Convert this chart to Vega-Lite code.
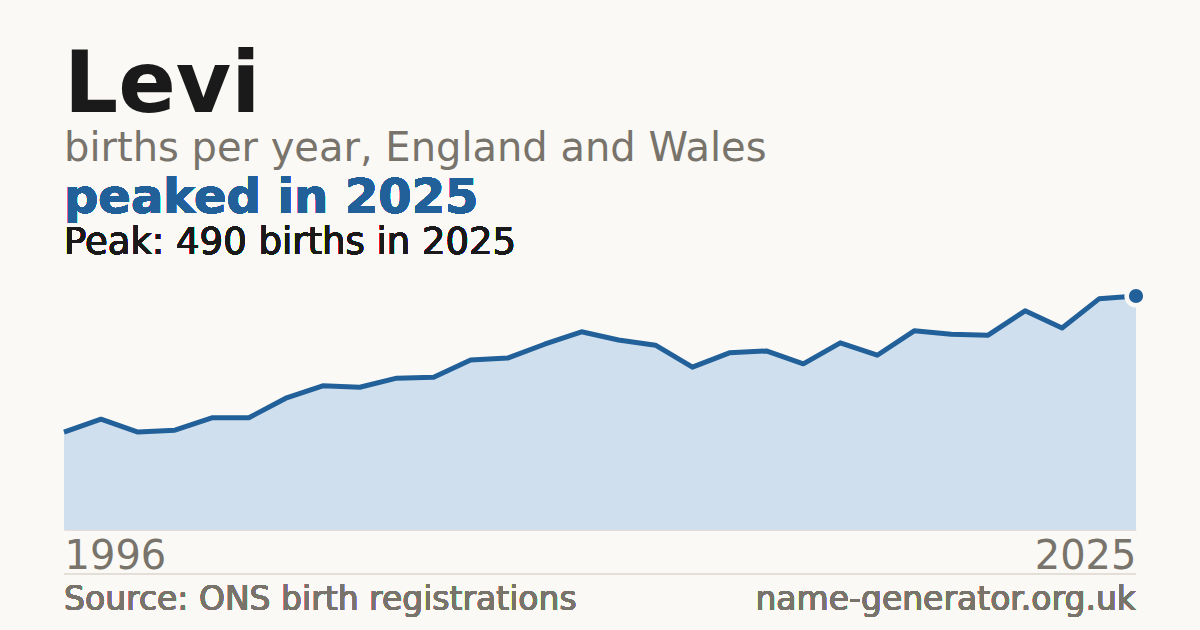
{
  "$schema": "https://vega.github.io/schema/vega-lite/v6.json",
  "autosize": {"type": "none"},
  "width": 1072,
  "height": 234,
  "padding": {"left": 64, "right": 64, "top": 296, "bottom": 100},
  "background": "#faf9f5",
  "title": {
    "text": "Levi",
    "subtitle": "births per year, England and Wales",
    "anchor": "start",
    "frame": "group",
    "font": "DejaVu Sans",
    "fontSize": 85,
    "fontWeight": "bold",
    "color": "#1a1a1a",
    "subtitleFont": "DejaVu Sans",
    "subtitleFontSize": 40,
    "subtitleColor": "#78736b",
    "subtitlePadding": -1,
    "offset": 5
  },
  "data": {
    "values": [
      {"year": 1996, "births": 205},
      {"year": 1997, "births": 232},
      {"year": 1998, "births": 205},
      {"year": 1999, "births": 209},
      {"year": 2000, "births": 235},
      {"year": 2001, "births": 235},
      {"year": 2002, "births": 276},
      {"year": 2003, "births": 302},
      {"year": 2004, "births": 299},
      {"year": 2005, "births": 318},
      {"year": 2006, "births": 320},
      {"year": 2007, "births": 356},
      {"year": 2008, "births": 360},
      {"year": 2009, "births": 389},
      {"year": 2010, "births": 415},
      {"year": 2011, "births": 398},
      {"year": 2012, "births": 387},
      {"year": 2013, "births": 341},
      {"year": 2014, "births": 371},
      {"year": 2015, "births": 375},
      {"year": 2016, "births": 348},
      {"year": 2017, "births": 392},
      {"year": 2018, "births": 366},
      {"year": 2019, "births": 417},
      {"year": 2020, "births": 410},
      {"year": 2021, "births": 408},
      {"year": 2022, "births": 459},
      {"year": 2023, "births": 423},
      {"year": 2024, "births": 484},
      {"year": 2025, "births": 490}
    ]
  },
  "encoding": {
    "x": {
      "field": "year",
      "type": "quantitative",
      "scale": {"domain": [1996, 2025], "nice": false, "zero": false},
      "axis": {
        "values": [1996, 2025],
        "format": "d",
        "title": null,
        "grid": false,
        "ticks": false,
        "domainColor": "#e3dfd7",
        "domainWidth": 1,
        "labelFlush": true,
        "labelFont": "DejaVu Sans",
        "labelFontSize": 40,
        "labelColor": "#78736b",
        "labelPadding": 6
      }
    },
    "y": {
      "field": "births",
      "type": "quantitative",
      "scale": {"domain": [0, 490], "nice": false, "zero": true},
      "axis": null
    }
  },
  "layer": [
    {"mark": {"type": "area", "color": "#cfdfee"}},
    {"mark": {"type": "line", "color": "#22609a", "strokeWidth": 5, "strokeJoin": "round"}},
    {
      "transform": [{"filter": "datum.year == 2025"}],
      "mark": {"type": "point", "filled": true, "shape": "circle", "size": 350, "fill": "#22609a", "stroke": "#faf9f5", "strokeWidth": 4.5, "opacity": 1, "fillOpacity": 1, "strokeOpacity": 1}
    },
    {
      "mark": {"type": "text", "text": "peaked in 2025", "align": "left", "baseline": "alphabetic", "font": "DejaVu Sans", "fontSize": 48, "fontWeight": "bold", "color": "#22609a"},
      "encoding": {"x": {"datum": 1996}, "y": {"datum": 664}}
    },
    {
      "mark": {"type": "text", "text": "Peak: 490 births in 2025", "align": "left", "baseline": "alphabetic", "font": "DejaVu Sans", "fontSize": 37, "color": "#1a1a1a"},
      "encoding": {"x": {"datum": 1996}, "y": {"datum": 578}}
    },
    {
      "mark": {"type": "rule", "color": "#e3dfd7", "strokeWidth": 1},
      "encoding": {"x": {"datum": 1996}, "x2": {"datum": 2025}, "y": {"datum": -92}}
    },
    {
      "mark": {"type": "text", "text": "Source: ONS birth registrations", "align": "left", "baseline": "alphabetic", "font": "DejaVu Sans", "fontSize": 33, "color": "#78736b"},
      "encoding": {"x": {"datum": 1996}, "y": {"datum": -168}}
    },
    {
      "mark": {"type": "text", "text": "name-generator.org.uk", "align": "right", "baseline": "alphabetic", "font": "DejaVu Sans", "fontSize": 33, "color": "#78736b"},
      "encoding": {"x": {"datum": 2025}, "y": {"datum": -168}}
    }
  ],
  "config": {"view": {"stroke": null}}
}
